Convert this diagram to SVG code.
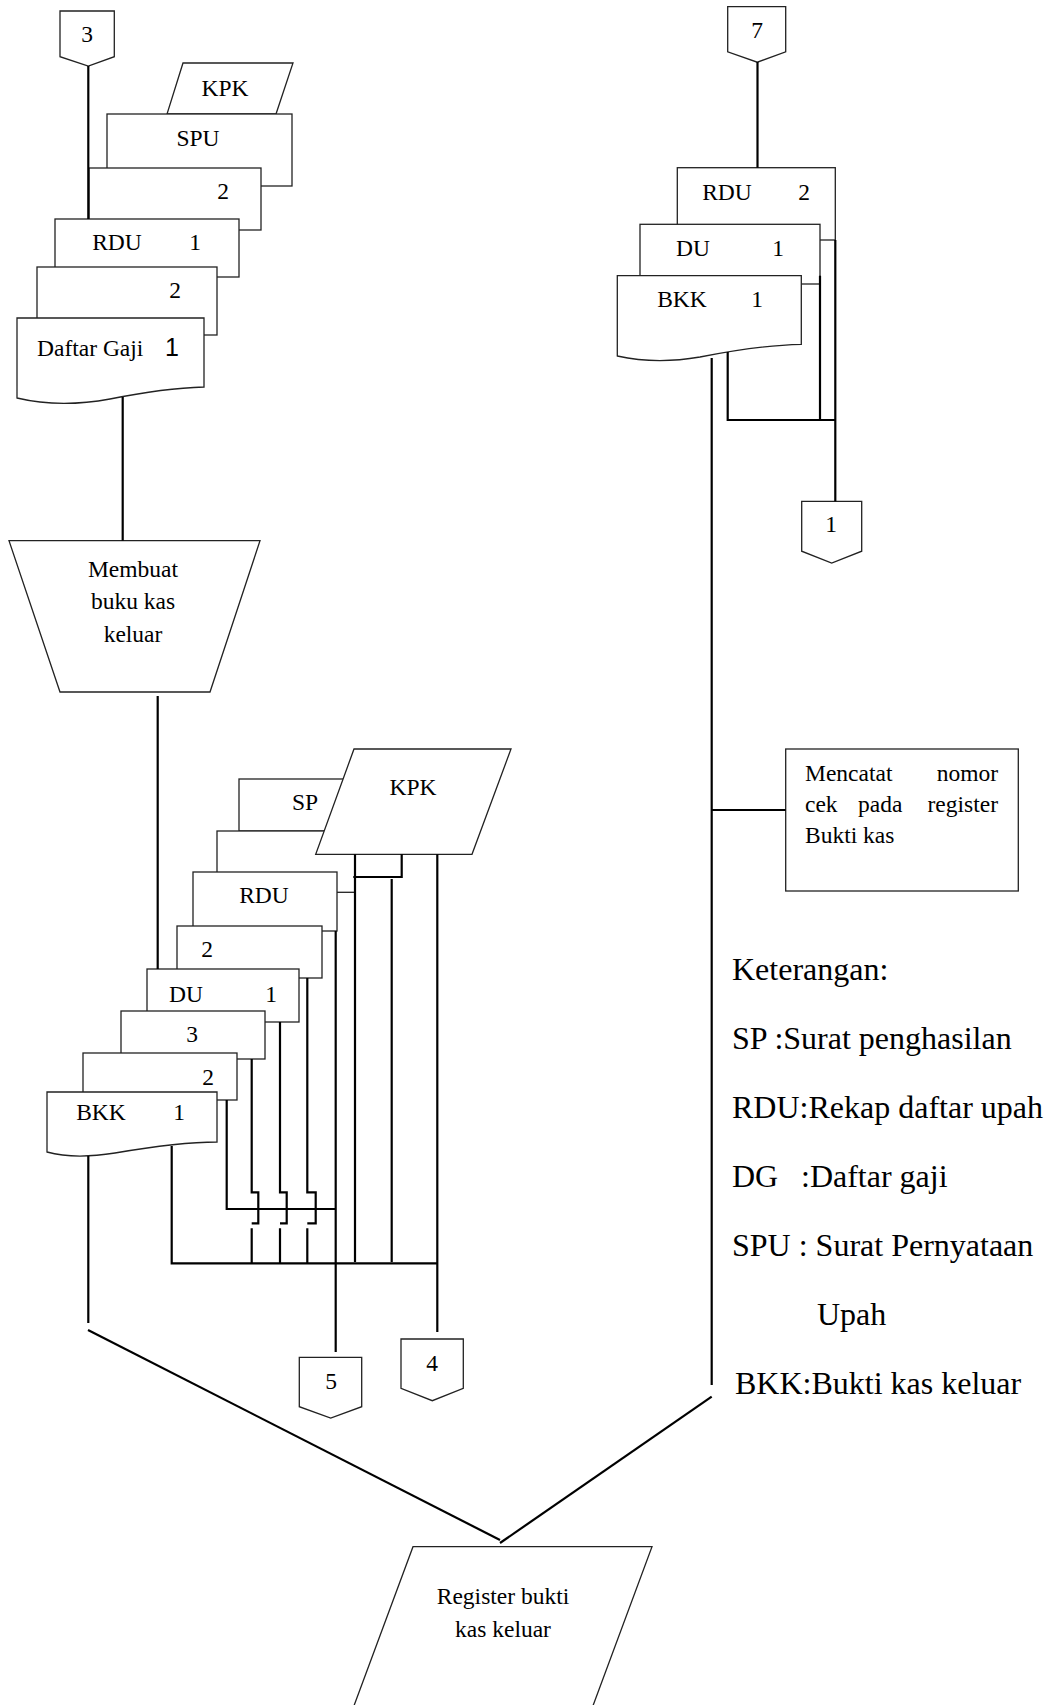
<svg xmlns="http://www.w3.org/2000/svg" width="1052" height="1705" viewBox="0 0 1052 1705">
<style>
.s{fill:#fff;stroke:#222;stroke-width:1.3}
.c{fill:none;stroke:#000;stroke-width:2.2}
.t{font-family:"Liberation Serif","Times New Roman",serif;font-size:23.5px;fill:#000}
.m{text-anchor:middle}
.e{text-anchor:end}
.b{font-size:32px}
.sans{font-family:"Liberation Sans",Arial,sans-serif;font-size:25px}
</style>
<rect width="1052" height="1705" fill="#fff"/>

<g id="off3"><polygon class="s" points="60,11 114.3,11 114.3,56.7 88.3,66 60,56.7"/><text class="t m" x="87" y="42">3</text></g>
<g id="off7"><polygon class="s" points="727.7,6.7 785.7,6.7 785.7,51.8 757.3,62.2 727.7,51.8"/><text class="t m" x="757" y="38">7</text></g>

<g id="kpk-top"><polygon class="s" points="183,63 293,63 276,114 167,114"/><text class="t m" x="225" y="96">KPK</text></g>
<g id="spu"><rect class="s" x="107" y="114" width="185" height="72"/><text class="t m" x="198" y="146">SPU</text></g>
<g id="spu2"><rect class="s" x="89" y="168" width="172" height="62"/><text class="t m" x="223" y="199">2</text></g>
<g id="rdu1"><rect class="s" x="55" y="219" width="184" height="58"/><text class="t m" x="117" y="250">RDU</text><text class="t m" x="195" y="250">1</text></g>
<g id="dg2"><rect class="s" x="37" y="267" width="180" height="68"/><text class="t m" x="175" y="298">2</text></g>
<g id="dg1"><path class="s" d="M17,318 H204 V387 C170,388 140,393 110,399 C72,406 42,404 17,398 Z"/><text class="t" x="37" y="356">Daftar Gaji</text><text class="sans m" x="172" y="356">1</text></g>

<g id="proc-buku"><polygon class="s" points="9,540.7 260,540.7 210,692 60,692"/><text class="t m" x="133" y="577">Membuat</text><text class="t m" x="133" y="609">buku kas</text><text class="t m" x="133" y="642">keluar</text></g>

<g id="sp"><rect class="s" x="239" y="779" width="121" height="52"/><text class="t m" x="305" y="810">SP</text></g>
<g id="blank"><rect class="s" x="217" y="831" width="138" height="61.3"/></g>
<g id="kpk"><polygon class="s" points="354,749 511,749 472,854.3 315.7,854.3"/><text class="t m" x="413" y="795">KPK</text></g>
<g id="rdu"><rect class="s" x="193" y="872" width="144" height="59"/><text class="t m" x="264" y="903">RDU</text></g>
<g id="du2"><rect class="s" x="177" y="926" width="145" height="52"/><text class="t m" x="207" y="957">2</text></g>
<g id="du1"><rect class="s" x="147" y="969" width="152" height="53"/><text class="t m" x="186" y="1002">DU</text><text class="t m" x="271" y="1002">1</text></g>
<g id="bkk3"><rect class="s" x="121" y="1011" width="144" height="48"/><text class="t m" x="192" y="1042">3</text></g>
<g id="bkk2"><rect class="s" x="83" y="1053" width="154" height="47"/><text class="t m" x="208" y="1085">2</text></g>
<g id="bkk1"><path class="s" d="M47,1092 H217 V1142 C185,1142 150,1147 115,1153 C90,1157 65,1157 47,1152 Z"/><text class="t m" x="101" y="1120">BKK</text><text class="t m" x="179" y="1120">1</text></g>

<g id="off5"><polygon class="s" points="299.3,1357.3 361.7,1357.3 361.7,1406.7 330.7,1418 299.3,1406.7"/><text class="t m" x="331" y="1389">5</text></g>
<g id="off4"><polygon class="s" points="401,1339 463.3,1339 463.3,1388.3 432.3,1400.7 401,1388.3"/><text class="t m" x="432" y="1371">4</text></g>

<g id="r-rdu2"><rect class="s" x="677.3" y="167.7" width="158" height="72.3"/><text class="t m" x="727" y="200">RDU</text><text class="t m" x="804" y="200">2</text></g>
<g id="r-du1"><rect class="s" x="640" y="224.3" width="180" height="59.7"/><text class="t m" x="693" y="256">DU</text><text class="t m" x="778" y="256">1</text></g>
<g id="r-bkk1"><path class="s" d="M617.3,275.7 H801.3 V344.3 C770,345 735,350 700,357 C665,363 640,361 617.3,356 Z"/><text class="t m" x="682" y="307">BKK</text><text class="t m" x="757" y="307">1</text></g>
<g id="off1"><polygon class="s" points="801.7,501.3 861.7,501.3 861.7,551.2 831.7,563 801.7,551.2"/><text class="t m" x="831" y="532">1</text></g>

<g id="proc-catat"><rect class="s" x="785.7" y="749" width="232.6" height="142"/>
<text class="t" x="805" y="781">Mencatat</text><text class="t e" x="998" y="781">nomor</text>
<text class="t" x="805" y="812">cek</text><text class="t" x="858" y="812">pada</text><text class="t e" x="998" y="812">register</text>
<text class="t" x="805" y="843">Bukti kas</text></g>

<g id="register"><polygon class="s" points="413,1546.7 652,1546.7 587.7,1720 348.7,1720"/><text class="t m" x="503" y="1604">Register bukti</text><text class="t m" x="503" y="1637">kas keluar</text></g>

<g id="legend">
<text class="t b" x="732" y="980">Keterangan:</text>
<text class="t b" x="732" y="1049">SP :Surat penghasilan</text>
<text class="t b" x="732" y="1118">RDU:Rekap daftar upah</text>
<text class="t b" x="732" y="1187">DG<tspan x="801">:Daftar gaji</tspan></text>
<text class="t b" x="732" y="1256">SPU : Surat Pernyataan</text>
<text class="t b" x="817" y="1325">Upah</text>
<text class="t b" x="735" y="1394">BKK:Bukti kas keluar</text>
</g>

<g id="connectors">
<path class="c" d="M88.3,66 V219"/>
<path class="c" d="M122.7,397 V540.7"/>
<path class="c" d="M157.7,696 V969"/>
<path class="c" d="M335.7,931 V1352"/>
<path class="c" d="M307.3,978 V1192.3 H315.7 V1223.3 H307.3 M307.3,1228.3 V1263.3"/>
<path class="c" d="M280,1022 V1192.3 H286.7 V1223.3 H280 M280,1228.3 V1263.3"/>
<path class="c" d="M251.7,1059 V1192.3 H258.3 V1223.3 H251.7 M251.7,1228.3 V1263.3"/>
<path class="c" d="M226.7,1100 V1209 H335.7"/>
<path class="c" d="M171.7,1146 V1263.3 H437.3"/>
<path class="c" d="M355,854.3 V1262"/>
<path class="c" d="M401.7,854.3 V877 H353.3"/>
<path class="c" d="M391.7,879 V1262"/>
<path class="c" d="M437.3,854.3 V1332"/>
<path class="c" d="M88.3,1156 V1323"/>
<path class="c" d="M88,1330 L500,1540"/>
<path class="c" d="M757.5,62 V167.7"/>
<path class="c" d="M820,275.7 V420"/>
<path class="c" d="M835.3,240 V501.3"/>
<path class="c" d="M727.7,352 V420 H835.3"/>
<path class="c" d="M711.7,358 V1385"/>
<path class="c" d="M711.7,810 H785.7"/>
<path class="c" d="M711.7,1396.7 L500,1543"/>
</g>
</svg>
